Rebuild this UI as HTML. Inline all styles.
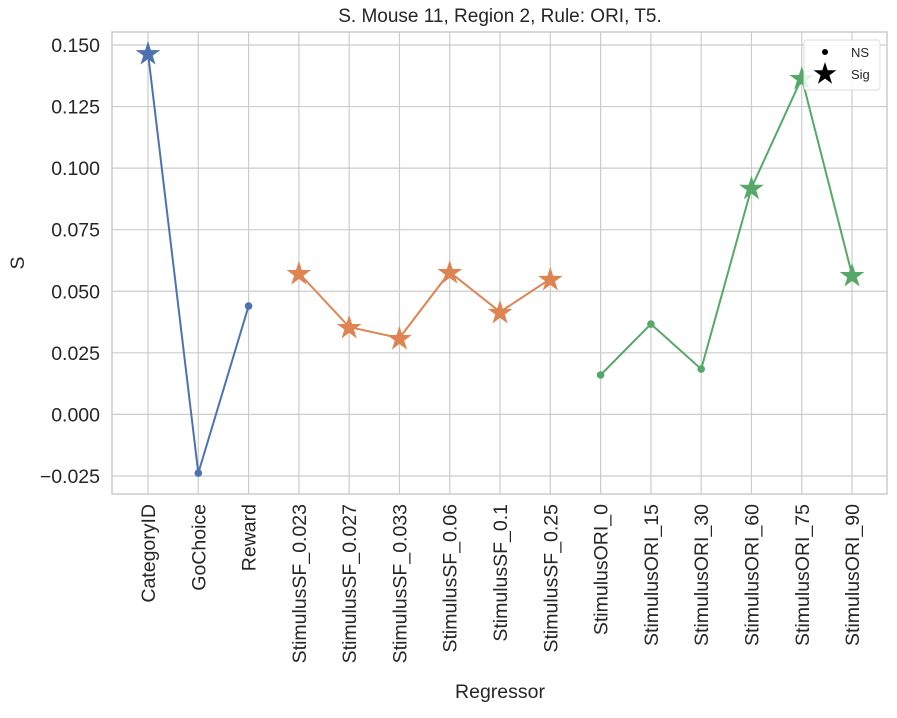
<!DOCTYPE html>
<html><head><meta charset="utf-8"><style>
body{margin:0;background:#fff;font-family:"Liberation Sans",Arial,sans-serif}
</style></head><body>
<svg id="chart" width="897" height="713" xmlns="http://www.w3.org/2000/svg" font-family="Liberation Sans, Arial, sans-serif">
<rect width="897" height="713" fill="#fff"/>
<g id="grid"></g>
<rect x="112" y="32" width="775" height="462" fill="none" stroke="#cccccc" stroke-width="1.5"/>
<g id="series"></g>
<g id="ticks" fill="#262626" font-size="19.5"></g>
<text x="500" y="22" text-anchor="middle" font-size="19" fill="#262626">S. Mouse 11, Region 2, Rule: ORI, T5.</text>
<text x="500" y="698" text-anchor="middle" font-size="19.5" fill="#262626">Regressor</text>
<text transform="translate(24,263) rotate(-90)" text-anchor="middle" font-size="19.5" fill="#262626">S</text>
<g>
<rect x="804" y="40" width="76" height="50" rx="3" fill="#fff" fill-opacity="0.85" stroke="#dddddd"/>
<circle cx="825" cy="52" r="3" fill="#000"/>
<text x="851" y="57" font-size="13" fill="#262626">NS</text>
<polygon id="legstar" fill="#000"/>
<text x="851" y="79" font-size="13" fill="#262626">Sig</text>
</g>
</svg>
<script>
const categories=["CategoryID","GoChoice","Reward","StimulusSF_0.023","StimulusSF_0.027","StimulusSF_0.033","StimulusSF_0.06","StimulusSF_0.1","StimulusSF_0.25","StimulusORI_0","StimulusORI_15","StimulusORI_30","StimulusORI_60","StimulusORI_75","StimulusORI_90"];
const groupA=[0.1467,-0.0238,0.044];
const groupASig=[1,0,0];
const groupB=[0.0574,0.0355,0.031,0.0578,0.0416,0.055];
const groupBSig=[1,1,1,1,1,1];
const groupC=[0.016,0.0367,0.0184,0.092,0.1366,0.0566];
const groupCSig=[0,0,0,1,1,1];
const yTicks=[-0.025,0,0.025,0.05,0.075,0.1,0.125,0.15];
const yTickLabels=["\u22120.025","0.000","0.025","0.050","0.075","0.100","0.125","0.150"];
const NS="http://www.w3.org/2000/svg";
const x=i=>148+i*50.29;
const y=v=>414.4-v/0.025*61.57;
function mk(t,a,p){const e=document.createElementNS(NS,t);for(const k in a)e.setAttribute(k,a[k]);p.appendChild(e);return e;}
function star(cx,cy,R){const r=R*0.382;let pts=[];for(let k=0;k<10;k++){const rr=k%2?r:R;const a=-Math.PI/2+k*Math.PI/5;pts.push((cx+rr*Math.cos(a)).toFixed(1)+","+(cy+rr*Math.sin(a)).toFixed(1));}return pts.join(" ");}
const grid=document.getElementById('grid'),ticks=document.getElementById('ticks'),ser=document.getElementById('series');
yTicks.forEach((v,i)=>{
 const l=mk('line',{x1:112,x2:887,y1:y(v),y2:y(v),stroke:'#cccccc','stroke-width':1.2},grid);
 
 
 const t=mk('text',{x:100,y:y(v)+7,'text-anchor':'end'},ticks);t.textContent=yTickLabels[i];
 
 
});
categories.forEach((c,i)=>{
 const l=mk('line',{x1:x(i),x2:x(i),y1:32,y2:494,stroke:'#cccccc','stroke-width':1.2},grid);
 
 
 const t=mk('text',{transform:`translate(${x(i)+7},504) rotate(-90)`,'text-anchor':'end'},ticks);t.textContent=c;
 
 
});
function draw(vals,sig,start,color,name){
 const pts=vals.map((v,j)=>x(start+j).toFixed(1)+","+y(v).toFixed(1)).join(" ");
 const pl=mk('polyline',{points:pts,fill:'none',stroke:color,'stroke-width':2},ser);
 
 
 vals.forEach((v,j)=>{
  let m;
  if(sig[j]) m=mk('polygon',{points:star(x(start+j),y(v)+1,13),fill:color},ser);
  else m=mk('circle',{cx:x(start+j),cy:y(v),r:3.8,fill:color},ser);
  
  
 });
}
draw(groupA,groupASig,0,'#4c72b0','task');
draw(groupB,groupBSig,3,'#dd8452','stimulus-sf');
draw(groupC,groupCSig,9,'#55a868','stimulus-ori');
document.getElementById('legstar').setAttribute('points',star(825,74,12));
</script>
</body></html>
